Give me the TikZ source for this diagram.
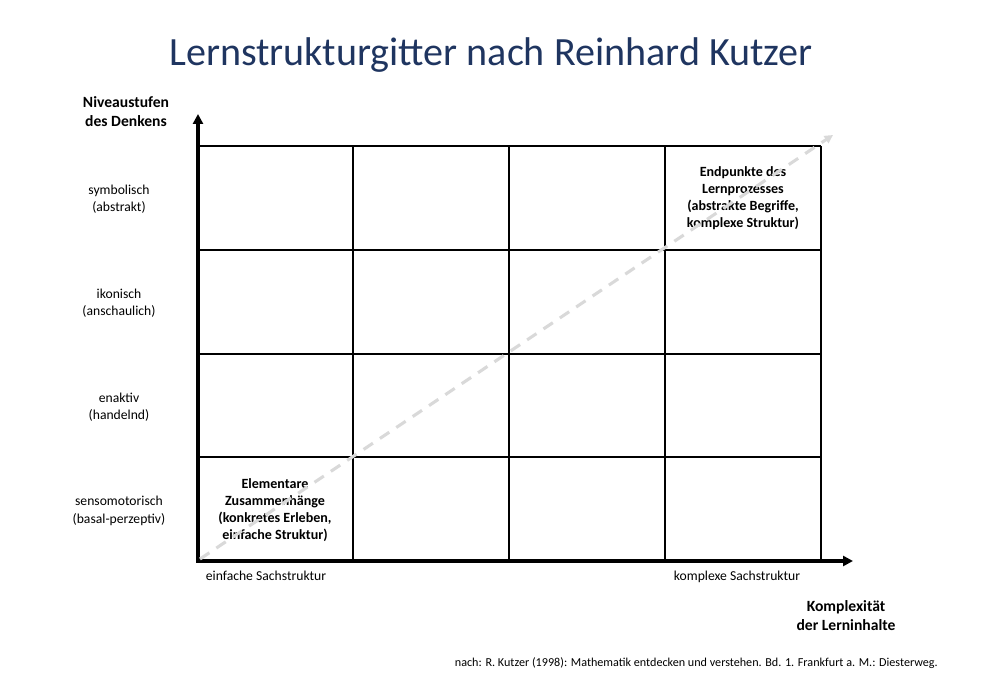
\documentclass[tikz,border=0pt]{standalone}
\usepackage{fontspec}
\setmainfont{Carlito}
\usetikzlibrary{arrows.meta}
\definecolor{TitleBlue}{HTML}{1F3560}
\definecolor{PathGray}{HTML}{D9D9D9}

\begin{document}
\begin{tikzpicture}[x=0.025cm, y=-0.025cm, every node/.style={black, align=center, inner sep=0pt},
		rowlabel/.style={font=\fontsize{9.7}{12.4}\selectfont},
		celltext/.style={font=\bfseries\fontsize{10}{12}\selectfont},
		axistitle/.style={font=\bfseries\fontsize{11.1}{13.6}\selectfont}]
			\useasboundingbox (0, 0) rectangle (992, 688);
			\node[font=\fontsize{28.5}{30}\selectfont, text=TitleBlue] (title) at (491, 55) {Lernstrukturgitter nach Reinhard Kutzer};
			
			\foreach \x in {353, 509, 665, 821}{
			\draw[line width=1.2pt] (\x, 146) -- (\x, 560);}
			\foreach \y in {146, 250, 354, 457}{
			\draw[line width=1.2pt] (198, \y) -- (821, \y);}
			
			\coordinate (origin) at (198, 561);
			\coordinate (ytip) at (198, 114);
			\coordinate (xtip) at (853, 561);
			\draw[line width=2.4pt, -{Triangle[length=7pt, width=7pt]}] (origin) -- (ytip);
			\draw[line width=2.4pt, -{Triangle[length=7pt, width=7pt]}] ([xshift=-1.2pt]origin) -- (xtip);
			
			\node[axistitle] (ytitle) at (126, 112) {Niveaustufen\\des Denkens};
			\node[axistitle] (xtitle) at (846, 616) {Komplexität\\der Lerninhalte};
			
			\node[rowlabel] (symb) at (119, 199) {symbolisch\\(abstrakt)};
			\node[rowlabel] (ikon) at (119, 303) {ikonisch\\(anschaulich)};
			\node[rowlabel] (enak) at (119, 407) {enaktiv\\(handelnd)};
			\node[rowlabel] (senso) at (119, 511) {sensomotorisch\\(basal-perzeptiv)};
			
			\node[rowlabel, anchor=base] (einfach) at (266, 580) {einfache Sachstruktur};
			\node[rowlabel, anchor=base] (komplex) at (737, 580) {komplexe Sachstruktur};
			
			\node[celltext] (start) at (275, 510) {Elementare\\Zusammenhänge\\(konkretes Erleben,\\einfache Struktur)};
			\node[celltext] (ende) at (743, 198) {Endpunkte des\\Lernprozesses\\(abstrakte Begriffe,\\komplexe Struktur)};
			
			\coordinate (pathend) at (833, 135);
			\draw[PathGray, line width=2.2pt, dash pattern=on 8pt off 6pt, -{Triangle[length=6pt, width=6pt]}] ([shift={(2, -2)}]origin) -- (pathend);
			
			\node[font=\fontsize{8.63}{10}\selectfont, anchor=east] (source) at (938, 663) {nach: R. Kutzer (1998): Mathematik entdecken und verstehen. Bd. 1. Frankfurt a. M.: Diesterweg.};
		\end{tikzpicture}
\end{document}
